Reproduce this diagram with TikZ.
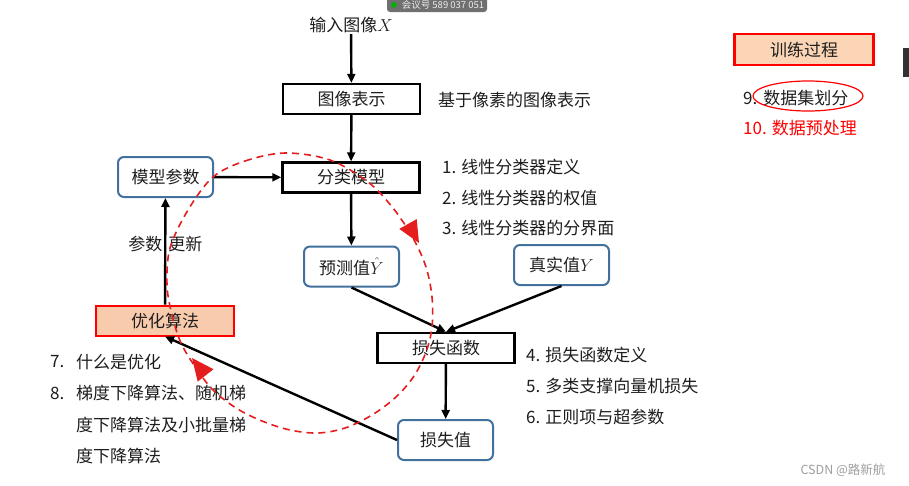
\documentclass[tikz,border=0pt]{standalone}
\usepackage{fontspec}
\setmainfont{Noto Sans CJK SC}
\usetikzlibrary{arrows.meta}
\definecolor{boxblue}{RGB}{65,113,156}
\definecolor{peach}{RGB}{248,203,173}
\definecolor{peachb}{RGB}{251,213,181}
\definecolor{dred}{RGB}{228,30,30}
\definecolor{txt}{RGB}{30,30,30}
\definecolor{pill}{RGB}{112,112,112}
\begin{document}
\begin{tikzpicture}[x=1pt,y=-1pt,
  font=\fontsize{17}{20}\selectfont, text=txt,
  rectbox/.style={draw=black, line width=2.4pt, minimum width=137pt, minimum height=30pt, inner sep=0pt, fill=white},
  roundbox/.style={draw=boxblue, line width=2pt, rounded corners=6pt, minimum width=95pt, minimum height=40pt, inner sep=0pt, fill=white},
  redbox/.style={draw=red, line width=2pt, fill=peach, minimum width=138pt, minimum height=30pt, inner sep=0pt},
  conn/.style={line width=2.4pt, -{Triangle[length=9pt,width=8pt]}},
  lbl/.style={anchor=west, inner sep=0pt},
]
\useasboundingbox (0,0) rectangle (909,485);
\fill[white] (0,0) rectangle (909,485);

% main nodes
\node[inner sep=1pt] (input) at (351,25) {输入图像$X$};
\node[rectbox] (rep) at (351.5,99) {图像表示};
\node[rectbox] (cls) at (351,177.5) {分类模型};
\node[roundbox] (params) at (165.5,177) {模型参数};
\node[roundbox] (pred) at (351.5,266.5) {预测值$\hat{Y}$};
\node[roundbox] (true) at (561.5,265) {真实值$Y$};
\node[rectbox] (loss) at (446,348) {损失函数};
\node[roundbox] (lossval) at (445.5,440) {损失值};
\node[redbox] (opt) at (165,320.5) {优化算法};

% connectors
\draw[conn] (input) -- (rep);
\draw[conn] (rep) -- (cls);
\draw[conn] (params) -- (cls);
\draw[conn] (cls) -- (pred);
\draw[conn] (pred.south) -- (loss.north);
\draw[conn] (true.south) -- (loss.north);
\draw[conn] (loss) -- (lossval);
\draw[conn] (lossval.west) -- (opt.south);
\draw[conn] (opt) -- node[pos=0.57, inner sep=0pt]{参数\hspace{6pt}更新} (params);

% side texts
\node[lbl] (desc) at (438,100) {基于像素的图像表示};
\node[lbl] (l1) at (442,167) {1. 线性分类器定义};
\node[lbl] (l2) at (442,198) {2. 线性分类器的权值};
\node[lbl] (l3) at (442,228) {3. 线性分类器的分界面};
\node[lbl] (l4) at (526,355) {4. 损失函数定义};
\node[lbl] (l5) at (526,386) {5. 多类支撑向量机损失};
\node[lbl] (l6) at (526,417) {6. 正则项与超参数};
\node[lbl] (n7) at (50,362) {7.};
\node[lbl] (l7) at (76,362) {什么是优化};
\node[lbl] (n8) at (50,393) {8.};
\node[lbl] (l8a) at (76,393) {梯度下降算法、随机梯};
\node[lbl] (l8b) at (76,425) {度下降算法及小批量梯};
\node[lbl] (l8c) at (76,456) {度下降算法};

% right panel
\node[draw=red, line width=2.4pt, fill=peachb, minimum width=139pt, minimum height=31pt, inner sep=0pt] (train) at (804,49.5) {训练过程};
\node[lbl] (l9) at (743,98) {9.\hspace{6pt}数据集划分};
\draw[red, line width=1.2pt] (808,96) ellipse [x radius=55, y radius=15];
\node[lbl, text=red] (l10) at (743,128) {10. 数据预处理};

% red dashed loop
\draw[dred, line width=1.6pt, dash pattern=on 7pt off 5pt] plot[smooth cycle, tension=0.55] coordinates {(213,177) (245,161) (285,153) (330,160) (368,182) (393,208) (413,238) (426,267) (432,297) (432,327) (426,352) (414,376) (396,397) (372,415) (345,428) (318,433) (290,430) (262,421) (236,408) (213,390) (196,368) (181,343) (172,315) (167,285) (170,248) (188,210)};
\fill[dred] (399.3,228.9) -- (416.7,219.1) -- (419,243) -- cycle;
\fill[dred] (213.5,369.2) -- (197.7,381.6) -- (192,358) -- cycle;

% screen overlays
\fill[pill, rounded corners=3pt] (387,-6) rectangle (487,12);
\fill[green!70!black] (394,5) circle (2.8);
\node[text=white!85!gray, font=\fontsize{9.5}{10}\selectfont, inner sep=0pt] (meet) at (443,5) {会议号 589 037 051};
\fill[black!80] (903,48) rectangle (909,77);
\node[text=gray!75, font=\fontsize{12.5}{14}\selectfont, inner sep=0pt] (csdn) at (843,470) {CSDN @路新航};
\end{tikzpicture}
\end{document}
